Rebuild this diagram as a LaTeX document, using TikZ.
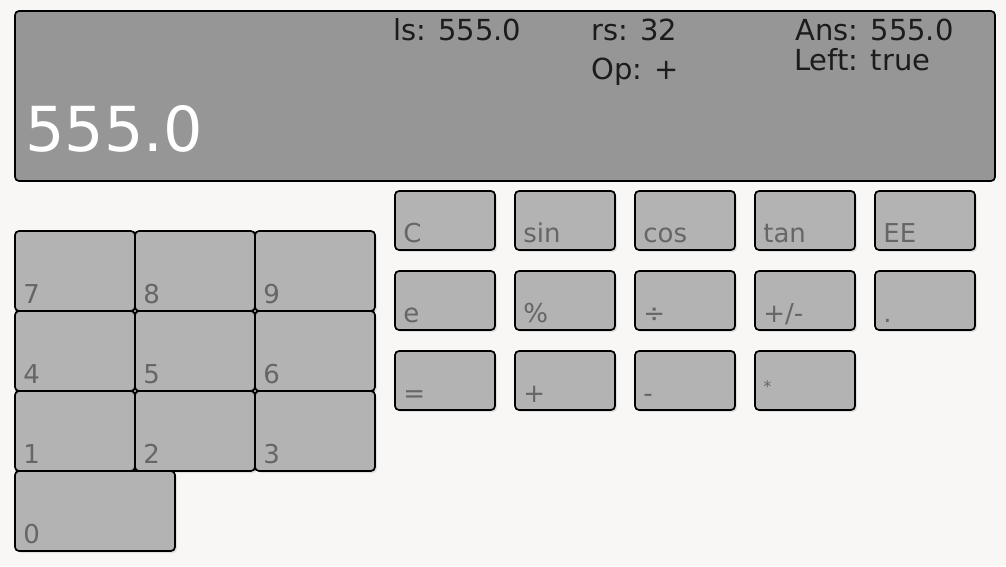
\documentclass[tikz,border=0pt]{standalone}
\usepackage{fontspec}
\setmainfont{DejaVu Sans}
\usepackage{tikz}
\usetikzlibrary{calc}
\definecolor{panelbg}{HTML}{F8F7F5}
\definecolor{screengray}{HTML}{969696}
\definecolor{keyfill}{HTML}{B3B3B3}
\definecolor{keyink}{HTML}{666666}
\definecolor{screenink}{HTML}{1C1C1C}
\tikzset{
  keybox/.style={draw=black, line width=1.7pt, fill=keyfill, rounded corners=4pt, inner sep=0pt},
  keyshadow/.style={fill=black!12, rounded corners=4pt},
  keytext/.style={anchor=base west, inner sep=0pt, text=keyink, font=\fontsize{26}{30}\selectfont},
  screentext/.style={anchor=base west, inner sep=0pt, text=screenink, font=\fontsize{29}{34}\selectfont}
}
% name, left, top, width, height, label
\newcommand{\keyb}[6]{\fill[keyshadow] ({#2+2},{#3+2}) rectangle ({#2+#4+2},{#3+#5+2}); \node[keybox, minimum width=#4pt, minimum height=#5pt] (#1) at ({#2+#4/2},{#3+#5/2}) {}; \node[keytext] (#1-l) at ($(#1.south west)+(9,-8)$) {#6};}

\begin{document}
\begin{tikzpicture}[x=1pt, y=-1pt]
        \fill[panelbg] (0,0) rectangle (1006,566);
        \useasboundingbox (0,0) rectangle (1006,566);
        % display
        \node[keybox, fill=screengray, minimum width=980pt, minimum height=170pt] (screen) at (505,96) {};
        \node[screentext] (ls) at (393,40) {ls: 555.0};
        \node[screentext] (rs) at (591,40) {rs: 32};
        \node[screentext] (op) at (591,79) {Op: +};
        \node[screentext] (ans) at (795,40) {Ans: 555.0};
        \node[screentext] (left) at (794,70) {Left: true};
        \node[anchor=base west, inner sep=0pt, text=white, font=\fontsize{62}{70}\selectfont] (value) at (25,151) {555.0};
        % row 1
        \keyb{kC}{395}{191}{100}{59}{C}
        \keyb{ksin}{515}{191}{100}{59}{sin}
        \keyb{kcos}{635}{191}{100}{59}{cos}
        \keyb{ktan}{755}{191}{100}{59}{tan}
        \keyb{kEE}{875}{191}{100}{59}{EE}
        % row 2
        \keyb{ke}{395}{271}{100}{59}{e}
        \keyb{kpct}{515}{271}{100}{59}{\%}
        \keyb{kdiv}{635}{271}{100}{59}{÷}
        \keyb{kpm}{755}{271}{100}{59}{+/-}
        \keyb{kdot}{875}{271}{100}{59}{.}
        % row 3
        \keyb{keq}{395}{351}{100}{59}{=}
        \keyb{kplus}{515}{351}{100}{59}{+}
        \keyb{kminus}{635}{351}{100}{59}{-}
        \keyb{kmul}{755}{351}{100}{59}{\raisebox{10pt}{\fontsize{16}{18}\selectfont*}}
        % number pad
        \keyb{n7}{15}{231}{120}{80}{7}
        \keyb{n8}{135}{231}{120}{80}{8}
        \keyb{n9}{255}{231}{120}{80}{9}
        \keyb{n4}{15}{311}{120}{80}{4}
        \keyb{n5}{135}{311}{120}{80}{5}
        \keyb{n6}{255}{311}{120}{80}{6}
        \keyb{n1}{15}{391}{120}{80}{1}
        \keyb{n2}{135}{391}{120}{80}{2}
        \keyb{n3}{255}{391}{120}{80}{3}
        \keyb{n0}{15}{471}{160}{80}{0}
\end{tikzpicture}
\end{document}
